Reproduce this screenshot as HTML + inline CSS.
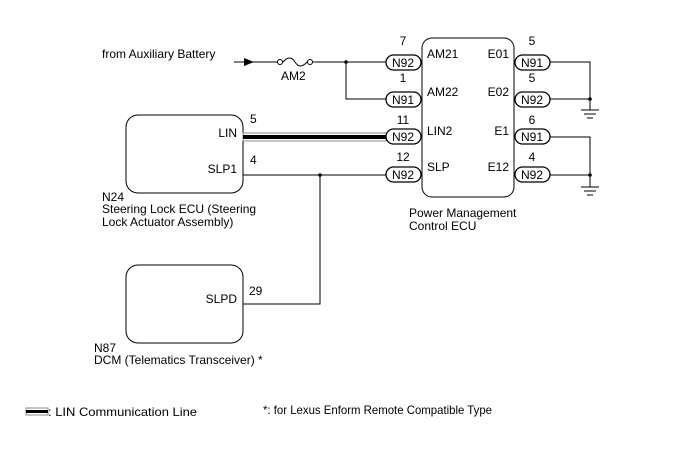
<!DOCTYPE html>
<html><head><style>
body{margin:0;background:#fff;}
svg text{font-family:"Liberation Sans",Arial,sans-serif;font-size:12px;fill:#000;}
</style></head><body>
<svg width="688" height="463" viewBox="0 0 688 463" xmlns="http://www.w3.org/2000/svg">
<g fill="none" stroke="#000" stroke-width="1">
<rect x="422" y="38" width="92" height="159" rx="10"/>
<rect x="126" y="115" width="117" height="78" rx="12"/>
<rect x="126" y="265" width="117" height="78" rx="12"/>
<line x1="234" y1="62" x2="278" y2="62"/>
<circle cx="280" cy="62" r="2.5" fill="#fff"/>
<path d="M283 62 Q290 54 295 62 Q300 70 307 62"/>
<circle cx="310" cy="62" r="2.5" fill="#fff"/>
<line x1="313" y1="62" x2="386" y2="62"/>
<polyline points="346,62 346,99 386,99"/>
<line x1="243" y1="175" x2="386" y2="175"/>
<polyline points="320,175 320,304 243,304"/>
<polyline points="550,62 590,62 590,110"/>
<line x1="550" y1="99" x2="590" y2="99"/>
<polyline points="550,137 590,137 590,187"/>
<line x1="550" y1="175" x2="590" y2="175"/>
<line x1="581" y1="110" x2="599" y2="110"/>
<line x1="584" y1="114" x2="596" y2="114"/>
<line x1="587" y1="118" x2="593" y2="118"/>
<line x1="581" y1="187" x2="599" y2="187"/>
<line x1="584" y1="191" x2="596" y2="191"/>
<line x1="587" y1="195" x2="593" y2="195"/>
</g>
<polygon points="244,58 254,62 244,66" fill="#000"/>
<circle cx="346" cy="62" r="1.8" fill="#000"/>
<circle cx="320" cy="175" r="1.8" fill="#000"/>
<circle cx="590" cy="99" r="1.8" fill="#000"/>
<circle cx="590" cy="175" r="1.8" fill="#000"/>
<rect x="243" y="133" width="143" height="8" fill="#fff" stroke="#888" stroke-width="1"/>
<rect x="243" y="135" width="143" height="4" fill="#000"/>
<g fill="#fff" stroke="#000" stroke-width="1.3">
<rect x="386" y="55" width="35" height="15" rx="7.5"/>
<rect x="386" y="92" width="35" height="15" rx="7.5"/>
<rect x="386" y="129" width="35" height="15" rx="7.5"/>
<rect x="386" y="167" width="35" height="15" rx="7.5"/>
<rect x="515" y="55" width="35" height="15" rx="7.5"/>
<rect x="515" y="92" width="35" height="15" rx="7.5"/>
<rect x="515" y="129" width="35" height="15" rx="7.5"/>
<rect x="515" y="167" width="35" height="15" rx="7.5"/>
</g>
<g text-anchor="middle">
<text x="403" y="67">N92</text><text x="403" y="104">N91</text>
<text x="403" y="141">N92</text><text x="403" y="179">N92</text>
<text x="532" y="67">N91</text><text x="532" y="104">N92</text>
<text x="532" y="141">N91</text><text x="532" y="179">N92</text>
<text x="403" y="45">7</text><text x="403" y="82">1</text>
<text x="403" y="124">11</text><text x="403" y="161">12</text>
<text x="532" y="45">5</text><text x="532" y="82">5</text>
<text x="532" y="124">6</text><text x="532" y="161">4</text>
</g>
<text x="427" y="58">AM21</text><text x="427" y="96">AM22</text>
<text x="427" y="135">LIN2</text><text x="427" y="171">SLP</text>
<text x="509" y="58" text-anchor="end">E01</text><text x="509" y="96" text-anchor="end">E02</text>
<text x="509" y="135" text-anchor="end">E1</text><text x="509" y="171" text-anchor="end">E12</text>
<text x="281" y="80">AM2</text>
<text x="102" y="58">from Auxiliary Battery</text>
<text x="237" y="137" text-anchor="end">LIN</text>
<text x="237" y="173" text-anchor="end">SLP1</text>
<text x="250" y="123">5</text><text x="250" y="164">4</text>
<text x="237" y="303" text-anchor="end">SLPD</text>
<text x="249" y="295">29</text>
<text x="102" y="201">N24</text>
<text x="102" y="213">Steering Lock ECU (Steering</text>
<text x="102" y="226">Lock Actuator Assembly)</text>
<text x="409" y="217">Power Management</text>
<text x="409" y="230">Control ECU</text>
<text x="94" y="352">N87</text>
<text x="94" y="364">DCM (Telematics Transceiver) *</text>
<rect x="26" y="408" width="22" height="7" fill="#fff" stroke="#888"/>
<rect x="26" y="410" width="22" height="3" fill="#000"/>
<text x="48" y="416" textLength="149" lengthAdjust="spacingAndGlyphs">: LIN Communication Line</text>
<text x="263" y="414" textLength="229" lengthAdjust="spacingAndGlyphs">*: for Lexus Enform Remote Compatible Type</text>
</svg>
</body></html>
